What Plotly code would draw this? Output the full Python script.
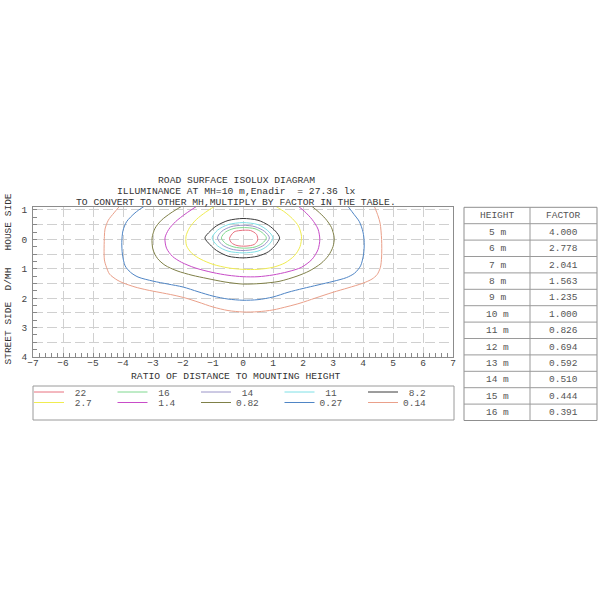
import plotly.graph_objects as go

# ---------------- data ----------------
LEVEL_LABELS = ["22", "16", "14", "11", "8.2", "2.7", "1.4", "0.82", "0.27", "0.14"]

# contour polylines (x = D/MH, y = D/MH, positive = street side)
ISO_22_X = [-0.45, -0.3, -0.1, 0.25, 0.45, 0.49, 0.38, 0.1, -0.2, -0.38, -0.45]
ISO_22_Y = [-0.03, -0.25, -0.3, -0.3, -0.17, 0.02, 0.17, 0.23, 0.21, 0.12, -0.03]

ISO_16_X = [-0.72, -0.58, -0.3, 0.05, 0.4, 0.64, 0.78, 0.64, 0.4, 0.05, -0.3, -0.58, -0.72]
ISO_16_Y = [-0.05, -0.25, -0.37, -0.4, -0.36, -0.23, -0.05, 0.14, 0.26, 0.3, 0.26, 0.14, -0.05]

ISO_14_X = [-0.85, -0.7, -0.4, 0.0, 0.4, 0.72, 0.88, 0.72, 0.4, 0.0, -0.4, -0.7, -0.85]
ISO_14_Y = [-0.05, -0.28, -0.43, -0.48, -0.43, -0.27, -0.05, 0.18, 0.33, 0.38, 0.33, 0.18, -0.05]

ISO_11_X = [-1.03, -0.85, -0.5, 0.0, 0.5, 0.82, 1.0, 0.82, 0.5, 0.0, -0.5, -0.85, -1.03]
ISO_11_Y = [-0.05, -0.31, -0.5, -0.57, -0.5, -0.3, -0.05, 0.22, 0.4, 0.46, 0.4, 0.22, -0.05]

ISO_8_2_X = [-1.27, -1.1, -0.88, -0.5, 0.0, 0.5, 0.85, 1.08, 1.22, 1.08, 0.85, 0.5, 0.0, -0.5, -0.88, -1.1, -1.27]
ISO_8_2_Y = [-0.05, -0.27, -0.46, -0.64, -0.71, -0.65, -0.48, -0.28, -0.05, 0.2, 0.42, 0.57, 0.63, 0.57, 0.38, 0.18, -0.05]

ISO_2_7_X = [-0.95, -1.25, -1.55, -1.78, -1.9, -1.88, -1.7, -1.4, -1.0, -0.5, 0.0, 0.5, 1.0, 1.4, 1.72, 1.9, 1.95, 1.85, 1.65, 1.4, 1.1]
ISO_2_7_Y = [-1.12, -0.92, -0.68, -0.4, -0.1, 0.22, 0.48, 0.68, 0.85, 0.97, 1.02, 1.02, 0.95, 0.8, 0.55, 0.25, -0.1, -0.45, -0.7, -0.92, -1.12]

ISO_1_4_X = [-1.55, -1.9, -2.25, -2.48, -2.6, -2.55, -2.35, -2.05, -1.6, -1.0, -0.5, 0.0, 0.5, 1.0, 1.5, 1.95, 2.3, 2.5, 2.56, 2.5, 2.3, 2.05, 1.85]
ISO_1_4_Y = [-1.12, -0.88, -0.6, -0.33, -0.05, 0.3, 0.58, 0.78, 0.97, 1.13, 1.22, 1.27, 1.27, 1.21, 1.1, 0.95, 0.68, 0.35, 0.0, -0.35, -0.68, -0.95, -1.12]

ISO_0_82_X = [-2.05, -2.4, -2.72, -2.93, -3.03, -3.0, -2.85, -2.6, -2.2, -1.7, -1.2, -0.6, 0.0, 0.6, 1.2, 1.8, 2.2, 2.6, 2.85, 3.0, 3.04, 2.95, 2.75, 2.5, 2.3]
ISO_0_82_Y = [-1.12, -0.9, -0.65, -0.38, -0.05, 0.35, 0.65, 0.88, 1.07, 1.22, 1.33, 1.45, 1.52, 1.5, 1.43, 1.25, 1.08, 0.82, 0.55, 0.25, -0.05, -0.4, -0.7, -0.95, -1.12]

ISO_0_27_X = [-3.3, -3.6, -3.88, -4.0, -4.04, -4.02, -3.93, -3.75, -3.5, -3.0, -2.5, -2.0, -1.5, -1.0, -0.5, 0.0, 0.5, 1.0, 1.5, 2.0, 2.5, 3.0, 3.45, 3.72, 3.92, 4.02, 4.04, 4.0, 3.88, 3.7, 3.5]
ISO_0_27_Y = [-1.12, -0.9, -0.6, -0.3, 0.1, 0.5, 0.9, 1.12, 1.28, 1.42, 1.52, 1.62, 1.78, 1.93, 2.03, 2.07, 2.05, 1.96, 1.8, 1.67, 1.55, 1.43, 1.3, 1.15, 0.9, 0.5, 0.1, -0.25, -0.6, -0.85, -1.12]

ISO_0_14_X = [-4.12, -4.3, -4.49, -4.6, -4.62, -4.62, -4.55, -4.45, -4.2, -4.0, -3.6, -3.2, -2.8, -2.3, -1.9, -1.5, -1.0, -0.5, 0.0, 0.5, 1.0, 1.5, 1.9, 2.4, 3.0, 3.5, 4.0, 4.3, 4.47, 4.58, 4.62, 4.62, 4.57, 4.5, 4.38]
ISO_0_14_Y = [-1.12, -0.9, -0.65, -0.35, -0.1, 0.7, 0.95, 1.18, 1.38, 1.48, 1.62, 1.72, 1.8, 1.9, 2.0, 2.13, 2.3, 2.42, 2.47, 2.46, 2.4, 2.28, 2.17, 2.0, 1.8, 1.65, 1.49, 1.35, 1.2, 0.95, 0.6, 0.0, -0.55, -0.8, -1.12]

CONTOURS_X = [ISO_22_X, ISO_16_X, ISO_14_X, ISO_11_X, ISO_8_2_X, ISO_2_7_X, ISO_1_4_X, ISO_0_82_X, ISO_0_27_X, ISO_0_14_X]
CONTOURS_Y = [ISO_22_Y, ISO_16_Y, ISO_14_Y, ISO_11_Y, ISO_8_2_Y, ISO_2_7_Y, ISO_1_4_Y, ISO_0_82_Y, ISO_0_27_Y, ISO_0_14_Y]

X_TICKS = [-7, -6, -5, -4, -3, -2, -1, 0, 1, 2, 3, 4, 5, 6, 7]
Y_TICKVALS = [-1, -0.5, 0, 0.5, 1, 1.5, 2, 2.5, 3, 3.5, 4]
Y_TICKTEXT = ["1", "", "0", "", "1", "", "2", "", "3", "", "4"]

TABLE_HEADER = ["HEIGHT", "FACTOR"]
HEIGHTS = ["5 m", "6 m", "7 m", "8 m", "9 m", "10 m", "11 m", "12 m", "13 m", "14 m", "15 m", "16 m"]
FACTORS = ["4.000", "2.778", "2.041", "1.563", "1.235", "1.000", "0.826", "0.694", "0.592", "0.510", "0.444", "0.391"]

TITLE_LINES = ["ROAD SURFACE ISOLUX DIAGRAM",
               "ILLUMINANCE AT MH=10 m,Enadir  = 27.36 lx",
               "TO CONVERT TO OTHER MH,MULTIPLY BY FACTOR IN THE TABLE."]

# ---------------- styles ----------------
COLORS = ["#e8707f", "#7fd88f", "#9a94c8", "#7fe0e6", "#3a3a3a",
          "#f0ec50", "#c84cc8", "#7f8048", "#4f85c5", "#eaa08a"]
FONT = "Courier New, Liberation Mono, monospace"
W = H = 600


def px(v):
    return v / W


def py(v):
    return 1 - v / H


fig = go.Figure()

for i, lab in enumerate(LEVEL_LABELS):
    pad = "\u00a0" if len(lab) < 4 else ""
    fig.add_trace(go.Scatter(
        x=CONTOURS_X[i], y=CONTOURS_Y[i], mode="lines",
        line=dict(color=COLORS[i], width=1, shape="spline", smoothing=0.8),
        name=pad + lab, hoverinfo="skip",
        legend="legend" if i < 5 else "legend2",
    ))

axis_font = dict(family=FONT, size=9.5, color="#444")
fig.update_layout(
    width=W, height=H,
    margin=dict(l=0, r=0, t=0, b=0, autoexpand=False),
    paper_bgcolor="white", plot_bgcolor="white",
    showlegend=True,
    xaxis=dict(domain=[px(33), px(453)], range=[-7, 7], tickvals=X_TICKS,
               ticks="inside", ticklen=4, tickcolor="#888", tickfont=axis_font,
               ticklabelstandoff=-3,
               showgrid=True, gridcolor="#d0d0d0", griddash="10px,4px", gridwidth=1,
               zeroline=False, showline=True, linecolor="#8c8c8c", linewidth=1, mirror=True,
               minor=dict(dtick=0.2, tick0=0, ticks="inside", ticklen=4, tickcolor="#888", showgrid=False),
               fixedrange=True),
    yaxis=dict(domain=[py(357), py(207)], range=[4.0, -1.1], autorange=False,
               tickvals=Y_TICKVALS, ticktext=Y_TICKTEXT,
               ticks="inside", ticklen=4, tickcolor="#888", tickfont=axis_font,
               ticklabelstandoff=3,
               showgrid=True, gridcolor="#d0d0d0", griddash="10px,4px", gridwidth=1,
               zeroline=False, showline=True, linecolor="#8c8c8c", linewidth=1, mirror=True,
               minor=dict(dtick=0.25, tick0=0, ticks="inside", ticklen=4, tickcolor="#888", showgrid=False),
               fixedrange=True),
    legend=dict(orientation="h", x=px(29), xanchor="left", y=py(377.5), yanchor="top",
                entrywidth=38.5, entrywidthmode="pixels", bgcolor="rgba(0,0,0,0)",
                font=dict(family=FONT, size=9.5, color="#555"), itemclick=False, itemdoubleclick=False),
    legend2=dict(orientation="h", x=px(29), xanchor="left", y=py(388), yanchor="top",
                 entrywidth=38.5, entrywidthmode="pixels", bgcolor="rgba(0,0,0,0)",
                 font=dict(family=FONT, size=9.5, color="#555"), itemclick=False, itemdoubleclick=False),
)

# legend frame
fig.add_shape(type="rect", xref="paper", yref="paper",
              x0=px(33), x1=px(454), y0=py(420), y1=py(386),
              line=dict(color="#9a9a9a", width=1), fillcolor="rgba(0,0,0,0)", layer="below")

# factor table (cells built from HEIGHTS / FACTORS)
T_LEFT, T_MID, T_RIGHT, T_TOP, ROW_H = 464, 530, 597, 207.3, 16.4
rows = [TABLE_HEADER] + [[h, f] for h, f in zip(HEIGHTS, FACTORS)]
T_BOTTOM = T_TOP + ROW_H * len(rows)
fig.add_shape(type="rect", xref="paper", yref="paper",
              x0=px(T_LEFT), x1=px(T_RIGHT), y0=py(T_BOTTOM), y1=py(T_TOP),
              line=dict(color="#8f8f8f", width=1), fillcolor="white", layer="below")
fig.add_shape(type="line", xref="paper", yref="paper",
              x0=px(T_MID), x1=px(T_MID), y0=py(T_BOTTOM), y1=py(T_TOP),
              line=dict(color="#9a9a9a", width=1))
for r, (a, b) in enumerate(rows):
    y_top = T_TOP + r * ROW_H
    if r > 0:
        fig.add_shape(type="line", xref="paper", yref="paper",
                      x0=px(T_LEFT), x1=px(T_RIGHT), y0=py(y_top), y1=py(y_top),
                      line=dict(color="#9a9a9a", width=1))
    for txt, xc in ((a, (T_LEFT + T_MID) / 2), (b, (T_MID + T_RIGHT) / 2)):
        fig.add_annotation(text=txt, xref="paper", yref="paper",
                           x=px(xc), y=py(y_top + ROW_H / 2 + 0.3),
                           xanchor="center", yanchor="middle", showarrow=False,
                           font=dict(family=FONT, size=9.5, color="#555"))

# titles
for txt, yc in zip(TITLE_LINES, [180.3, 191.0, 202.2]):
    fig.add_annotation(text=txt, xref="paper", yref="paper", x=px(236), y=py(yc),
                       xanchor="center", yanchor="middle", showarrow=False,
                       font=dict(family=FONT, size=9.7, color="#333"))

fig.add_annotation(text="RATIO OF DISTANCE TO MOUNTING HEIGHT", xref="paper", yref="paper",
                   x=px(235), y=py(376.5), xanchor="center", yanchor="middle", showarrow=False,
                   font=dict(family=FONT, size=9.7, color="#333"))

fig.add_annotation(text="STREET SIDE  D/MH   HOUSE SIDE", xref="paper", yref="paper",
                   x=px(7.5), y=py(279), xanchor="center", yanchor="middle", showarrow=False,
                   textangle=-90, font=dict(family=FONT, size=9.5, color="#333"))

fig.write_html("out.html", config={"displayModeBar": False},
               post_script="document.body.style.margin='0px';")
